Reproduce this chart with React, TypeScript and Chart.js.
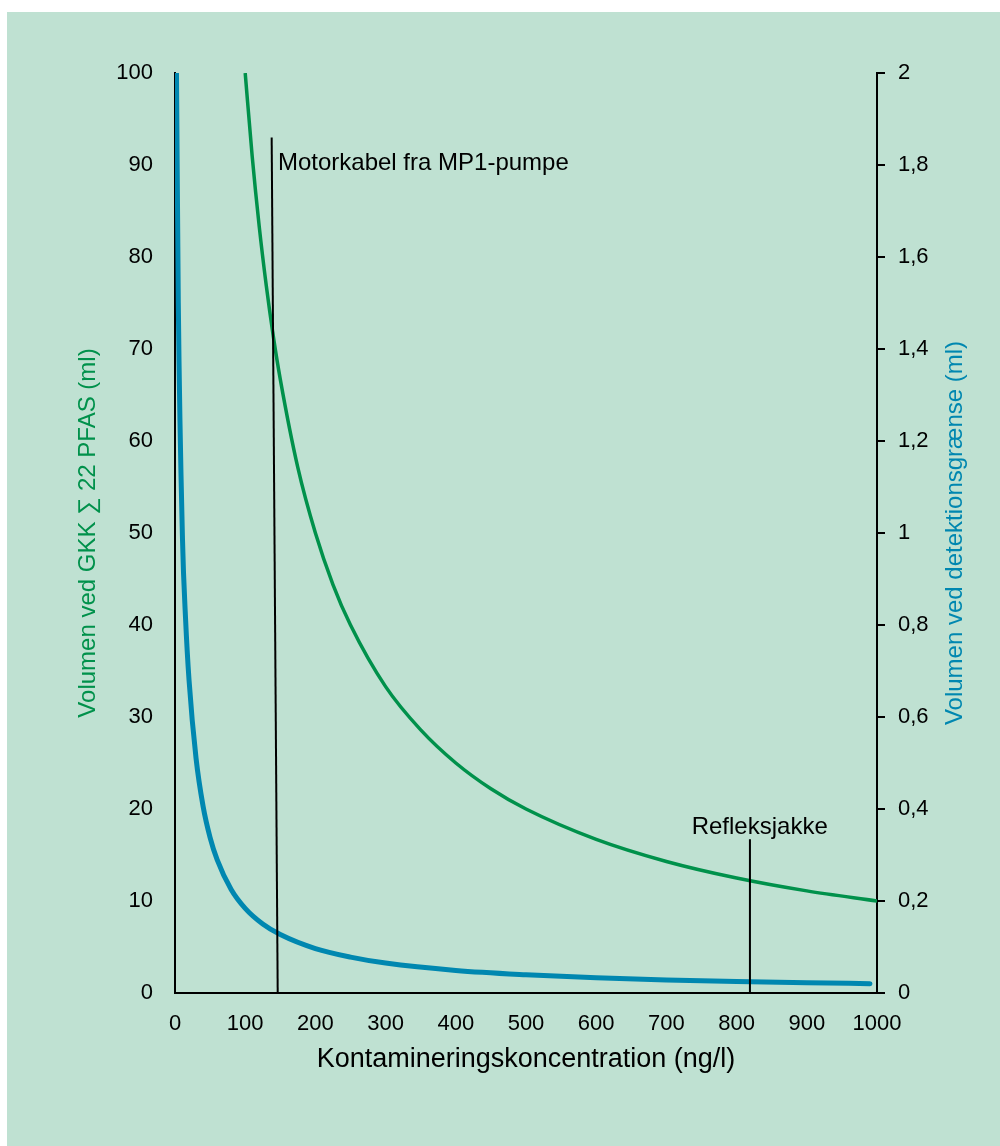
import React, { useEffect, useRef } from "react";
import { Chart, registerables } from "chart.js";

Chart.register(...registerables);

const FONT = "Arial, 'Liberation Sans', Helvetica, sans-serif";
const GREEN = "#00914b";
const BLUE = "#0087b0";
const BG = "#bfe1d2";

const xTitle = "Kontamineringskoncentration (ng/l)";
const leftTitle = "Volumen ved GKK \u2211 22 PFAS (ml)";
const rightTitle = "Volumen ved detektionsgrænse (ml)";

// Green series (left axis): volume at GKK
const gkkX = [100, 110, 120, 130, 140, 150, 175, 200, 225, 250, 300, 350, 400, 450, 500, 600, 700, 800, 900, 1000];
const gkkY = [100, 90.9, 83.3, 76.9, 71.4, 66.7, 57.1, 50, 44.4, 40, 33.3, 28.6, 25, 22.2, 20, 16.7, 14.3, 12.5, 11.1, 10];

// Blue series (right axis): volume at detection limit
const detX = [2.1, 4.7, 10.7, 15, 20, 30, 40, 50, 60, 80, 100, 125, 150, 200, 250, 300, 400, 500, 600, 700, 800, 900, 990];
const detY = [2.0, 1.5, 0.985, 0.815, 0.68, 0.51, 0.406, 0.338, 0.29, 0.225, 0.184, 0.15, 0.127, 0.0965, 0.078, 0.065, 0.049, 0.0397, 0.0332, 0.0285, 0.025, 0.0223, 0.0203];

// Annotation leader lines (left axis units)
const motorLineX = [137.7, 146.3];
const motorLineY = [93, 0];
const refleksLineX = [819, 819];
const refleksLineY = [16.7, 0];

const annotationLabels = ["Motorkabel fra MP1-pumpe", "Refleksjakke"];
const annotationLabelX = [146.7, 736];
const annotationLabelY = [90.2, 18.0];

const toPoints = (xs: number[], ys: number[]) => xs.map((x, i) => ({ x, y: ys[i] }));

const fmtComma = (v: number) => String(Number(v.toFixed(1))).replace(".", ",");

const textPlugin = {
  id: "customText",
  afterDraw(chart: any) {
    const { ctx, chartArea, scales } = chart;
    const xs = scales.x;
    const ys = scales.y;
    ctx.save();
    ctx.fillStyle = "#000";
    ctx.font = `24px ${FONT}`;
    ctx.textAlign = "left";
    ctx.textBaseline = "middle";
    annotationLabels.forEach((t, i) => {
      ctx.fillText(t, xs.getPixelForValue(annotationLabelX[i]), ys.getPixelForValue(annotationLabelY[i]));
    });
    const cy = (chartArea.top + chartArea.bottom) / 2;
    const cx = (chartArea.left + chartArea.right) / 2;
    ctx.textAlign = "center";
    ctx.save();
    ctx.font = `27px ${FONT}`;
    ctx.fillText(xTitle, cx, chartArea.bottom + 67);
    ctx.restore();
    ctx.save();
    ctx.translate(chartArea.left - 87, cy);
    ctx.rotate(-Math.PI / 2);
    ctx.fillStyle = GREEN;
    ctx.fillText(leftTitle, 0, 0);
    ctx.restore();
    ctx.save();
    ctx.translate(chartArea.right + 78, cy);
    ctx.rotate(-Math.PI / 2);
    ctx.fillStyle = BLUE;
    ctx.fillText(rightTitle, 0, 0);
    ctx.restore();
    ctx.restore();
  },
};

export default function App() {
  const ref = useRef<HTMLCanvasElement | null>(null);
  useEffect(() => {
    if (!ref.current) return;
    const chart = new Chart(ref.current, {
      type: "scatter",
      data: {
        datasets: [
          {
            data: toPoints(motorLineX, motorLineY),
            showLine: true,
            borderColor: "#000",
            borderWidth: 2,
            pointRadius: 0,
            yAxisID: "y",
          },
          {
            data: toPoints(refleksLineX, refleksLineY),
            showLine: true,
            borderColor: "#000",
            borderWidth: 2,
            pointRadius: 0,
            yAxisID: "y",
          },
          {
            data: toPoints(gkkX, gkkY),
            showLine: true,
            borderColor: GREEN,
            borderWidth: 3.5,
            pointRadius: 0,
            cubicInterpolationMode: "monotone",
            yAxisID: "y",
          },
          {
            data: toPoints(detX, detY),
            showLine: true,
            borderColor: BLUE,
            borderWidth: 5,
            borderCapStyle: "round",
            pointRadius: 0,
            cubicInterpolationMode: "monotone",
            yAxisID: "y1",
          },
        ],
      } as any,
      options: {
        animation: false,
        responsive: false,
        devicePixelRatio: 1,
        layout: { padding: { top: 61, left: 0, right: 0, bottom: 0 } },
        plugins: { legend: { display: false }, tooltip: { enabled: false } },
        scales: {
          x: {
            type: "linear",
            min: 0,
            max: 1000,
            ticks: {
              stepSize: 100,
              color: "#000",
              font: { family: FONT, size: 22 },
              padding: 18,
              maxRotation: 0,
              callback: (v: any) => String(v),
            },
            grid: { display: false, drawTicks: false },
            border: { display: true, color: "#000", width: 2 },
            afterFit: (s: any) => {
              s.height = 153;
            },
          },
          y: {
            position: "left",
            min: 0,
            max: 100,
            ticks: { stepSize: 10, color: "#000", font: { family: FONT, size: 22 }, padding: 22 },
            grid: { display: false, drawTicks: false },
            border: { display: true, color: "#000", width: 2 },
            afterFit: (s: any) => {
              s.width = 168;
            },
          },
          y1: {
            position: "right",
            min: 0,
            max: 2,
            ticks: {
              stepSize: 0.2,
              color: "#000",
              font: { family: FONT, size: 22 },
              padding: 13,
              callback: (v: any) => fmtComma(Number(v)),
            },
            grid: { display: true, drawOnChartArea: false, drawTicks: true, tickLength: 8, color: "#000", lineWidth: 2 },
            border: { display: true, color: "#000", width: 2 },
            afterFit: (s: any) => {
              s.width = 123;
            },
          },
        },
      } as any,
      plugins: [textPlugin],
    });
    return () => chart.destroy();
  }, []);
  return (
    <div style={{ position: "absolute", left: 7, top: 12, width: 993, height: 1134, background: BG }}>
      <canvas ref={ref} width={993} height={1134} style={{ display: "block" }} />
    </div>
  );
}
